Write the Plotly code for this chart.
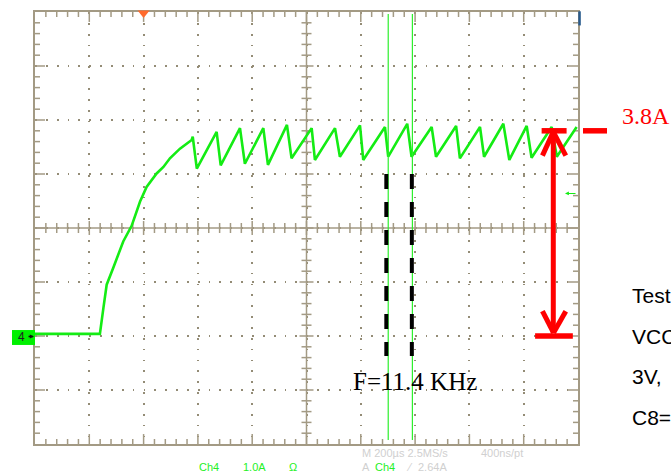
import plotly.graph_objects as go

# ---------------- data ----------------
# Ch4 current waveform vertices: time in microseconds, current in amperes
time_us = [0, 239, 252, 264, 288, 313, 325, 356, 387, 411,
           448, 473, 497, 534, 577, 581,
           596, 669, 684, 755, 773, 841, 858, 928, 945, 1019,
           1031, 1105, 1123, 1197, 1209, 1289, 1301, 1371, 1387, 1461,
           1477, 1551, 1565, 1639, 1654, 1725, 1747, 1811, 1829, 1903,
           1922, 1995]
current_a = [0.04, 0.04, 0.52, 0.95, 1.26, 1.57, 1.75, 2.04, 2.49, 2.76,
             3.01, 3.13, 3.29, 3.47, 3.63, 3.69,
             3.10, 3.78, 3.16, 3.85, 3.19, 3.85, 3.17, 3.91, 3.29, 3.85,
             3.26, 3.85, 3.32, 3.90, 3.26, 3.87, 3.32, 3.93, 3.32, 3.87,
             3.32, 3.89, 3.29, 3.87, 3.32, 3.93, 3.26, 3.89, 3.30, 3.87,
             3.32, 3.87]

cursor_times_us = [1301, 1390]          # green time cursors
marker_times_us = [1294, 1388]          # black dashed period markers
marker_span_a = [3.0, -0.37]
peak_level_a = 3.8                      # red arrow top
base_level_a = 0.0                      # red arrow bottom
arrow_time_us = 1909
trigger_time_us = 400
trigger_level_a = 2.64

peak_label = "3.8A"
freq_label = "F=11.4 KHz"
side_lines = ["Test", "VCC", "3V,", "C8="]

# scope scale: 200 us/div (10 div), 1 A/div (8 div), ground two divisions below centre
X_RANGE = [0, 2000]
Y_RANGE = [-2, 6]
X_DIV, Y_DIV = 200, 1

# ---------------- geometry ----------------
W, H = 671, 475
L, R, T, B = 35, 93, 10, 31
PW, PH = W - L - R, H - T - B
PXX = (X_RANGE[1] - X_RANGE[0]) / PW    # data units per pixel
PXY = (Y_RANGE[1] - Y_RANGE[0]) / PH

def px(xp):   # pixel -> paper
    return (xp - L) / PW

def py(yp):
    return (H - B - yp) / PH

GRID = "#a39a84"
DOT = "#948c76"
GREEN = "#14ec14"
RED = "#ff0000"

fig = go.Figure()

# ---------------- graticule ticks (built from the axis scale) ----------------
tx, ty = [], []
def seg(x0, y0, x1, y1):
    tx.extend([x0, x1, None]); ty.extend([y0, y1, None])

nx = int((X_RANGE[1] - X_RANGE[0]) / (X_DIV / 5))
for i in range(1, nx):
    t = X_RANGE[0] + i * X_DIV / 5
    major = i % 5 == 0
    ln = 10 if major else 5
    seg(t, Y_RANGE[0], t, Y_RANGE[0] + ln * PXY)
    seg(t, Y_RANGE[1], t, Y_RANGE[1] - ln * PXY)
    cl = 7 if major else 5
    seg(t, 2 - cl * PXY, t, 2 + cl * PXY)
ny = int((Y_RANGE[1] - Y_RANGE[0]) / (Y_DIV / 5))
for j in range(1, ny):
    a = Y_RANGE[0] + j * Y_DIV / 5
    major = j % 5 == 0
    ln = 10 if major else 5
    seg(X_RANGE[0], a, X_RANGE[0] + ln * PXX, a)
    seg(X_RANGE[1], a, X_RANGE[1] - ln * PXX, a)
    cl = 7 if major else 5
    seg(1000 - cl * PXX, a, 1000 + cl * PXX, a)
# centre cross
seg(1000, Y_RANGE[0], 1000, Y_RANGE[1])
seg(X_RANGE[0], 2, X_RANGE[1], 2)

fig.add_trace(go.Scatter(x=tx, y=ty, mode="lines", line=dict(color=GRID, width=1.5),
                         hoverinfo="skip", showlegend=False))

# ---------------- waveform ----------------
fig.add_trace(go.Scatter(x=time_us, y=current_a, mode="lines",
                         line=dict(color=GREEN, width=2.6), showlegend=False,
                         cliponaxis=True))

shapes = []
# cursors
for c in cursor_times_us:
    shapes.append(dict(type="line", xref="x", yref="paper", x0=c, x1=c, y0=py(440), y1=py(12),
                       line=dict(color="#2cf02c", width=1.2)))
# black dashed markers
for m in marker_times_us:
    shapes.append(dict(type="line", xref="x", yref="y", x0=m, x1=m,
                       y0=marker_span_a[0], y1=marker_span_a[1],
                       line=dict(color="black", width=4, dash="15px,13px")))
# red double arrow
shapes.append(dict(type="line", xref="x", yref="y", x0=arrow_time_us, x1=arrow_time_us,
                   y0=peak_level_a, y1=base_level_a + 0.05, line=dict(color=RED, width=5)))
shapes.append(dict(type="line", xref="x", yref="y", x0=arrow_time_us - 43, x1=arrow_time_us + 49,
                   y0=peak_level_a, y1=peak_level_a, line=dict(color=RED, width=5.5)))
shapes.append(dict(type="line", xref="x", yref="y", x0=arrow_time_us - 67, x1=arrow_time_us + 72,
                   y0=base_level_a, y1=base_level_a, line=dict(color=RED, width=5.5)))
for dx in (-40, 46):
    shapes.append(dict(type="line", xref="x", yref="y", x0=arrow_time_us, y0=peak_level_a - 0.02,
                       x1=arrow_time_us + dx, y1=peak_level_a - 0.46, line=dict(color=RED, width=5)))
    shapes.append(dict(type="line", xref="x", yref="y", x0=arrow_time_us + 1, y0=base_level_a + 0.06,
                       x1=arrow_time_us + dx, y1=base_level_a + 0.46, line=dict(color=RED, width=5)))
# red tick outside the graticule at 3.8 A
shapes.append(dict(type="line", xref="paper", yref="y", x0=px(583), x1=px(607),
                   y0=peak_level_a, y1=peak_level_a, line=dict(color=RED, width=5.5)))
# trigger position marker (orange)
tp = px(L + (trigger_time_us - X_RANGE[0]) / PXX)
shapes.append(dict(type="path", xref="paper", yref="paper",
                   path=f"M {tp - 6/PW},{py(8.5)} L {tp + 6/PW},{py(8.5)} L {tp},{py(16)} Z",
                   fillcolor="#ff6a2c", line=dict(width=0)))
# ground marker box
shapes.append(dict(type="rect", xref="paper", yref="paper", x0=px(12), x1=px(35),
                   y0=py(344.5), y1=py(329.5), fillcolor="#00f000", line=dict(width=0)))
# blue mark top-right
shapes.append(dict(type="rect", xref="paper", yref="paper", x0=px(578.3), x1=px(580.8),
                   y0=py(23.5), y1=py(9.3), fillcolor="#285a8c", line=dict(width=0)))

ann = []
ann.append(dict(text=peak_label, x=px(619.5), y=py(114), xref="paper", yref="paper",
                xanchor="left", yanchor="middle", showarrow=False,
                font=dict(family="Liberation Serif", size=24, color=RED)))
ann.append(dict(text=freq_label, x=px(350.5), y=py(381), xref="paper", yref="paper",
                xanchor="left", yanchor="middle", showarrow=False,
                font=dict(family="Liberation Serif", size=25, color="black")))
for k, s in enumerate(side_lines):
    ann.append(dict(text=s, x=px(629.5), y=py(295 + k * 40.7), xref="paper", yref="paper",
                    xanchor="left", yanchor="middle", showarrow=False,
                    font=dict(family="Liberation Sans", size=21, color="black")))
# ground marker label
ann.append(dict(text="4", x=px(21.2), y=py(337), xref="paper", yref="paper", showarrow=False,
                xanchor="center", yanchor="middle",
                font=dict(family="Liberation Sans", size=12, color="#202020")))
ann.append(dict(text="", x=px(34), y=py(336), ax=-7, ay=0, xref="paper", yref="paper",
                showarrow=True, arrowhead=2, arrowsize=0.6, arrowwidth=1.4, arrowcolor="#101010"))
# trigger level arrow
ann.append(dict(text="", x=px(565), y=trigger_level_a, ax=12, ay=0, xref="paper", yref="y",
                showarrow=True, arrowhead=2, arrowsize=0.7, arrowwidth=1.1, arrowcolor=GREEN))
# status bar
def stat(text, xp, yp, color):
    ann.append(dict(text=text, x=px(xp), y=py(yp), xref="paper", yref="paper", xanchor="left",
                    yanchor="middle", showarrow=False,
                    font=dict(family="Liberation Sans", size=11, color=color)))
LG = "#24f024"
GR = "#d0d0d0"
stat("Ch4", 196.5, 467, LG)
stat("1.0A", 241.5, 467, LG)
stat("Ω", 287, 467, LG)
stat("M 200µs 2.5MS/s", 359.5, 453.5, GR)
stat("400ns/pt", 479, 453.5, GR)
stat("A", 359.5, 467.5, GR)
stat("Ch4", 372.5, 467.5, LG)
stat("⁄", 404, 467.5, GR)
stat("2.64A", 415.5, 467.5, GR)

axis_common = dict(showgrid=True, gridcolor=DOT, gridwidth=1.8, zeroline=False,
                   showline=True, linecolor=GRID, linewidth=1.5, mirror=True,
                   showticklabels=False, ticks="", fixedrange=True)
fig.update_xaxes(range=X_RANGE, tick0=0, dtick=X_DIV, griddash="1.8px,9.06px", **axis_common)
fig.update_yaxes(range=Y_RANGE, tick0=0, dtick=Y_DIV, griddash="1.8px,9.05px", **axis_common)

fig.update_layout(width=W, height=H, margin=dict(l=L, r=R, t=T, b=B, pad=0),
                  paper_bgcolor="white", plot_bgcolor="white", showlegend=False,
                  shapes=shapes, annotations=ann)

fig.write_html("out.html", config={"displayModeBar": False},
               post_script="document.body.style.margin='0';document.body.style.overflow='hidden';")
